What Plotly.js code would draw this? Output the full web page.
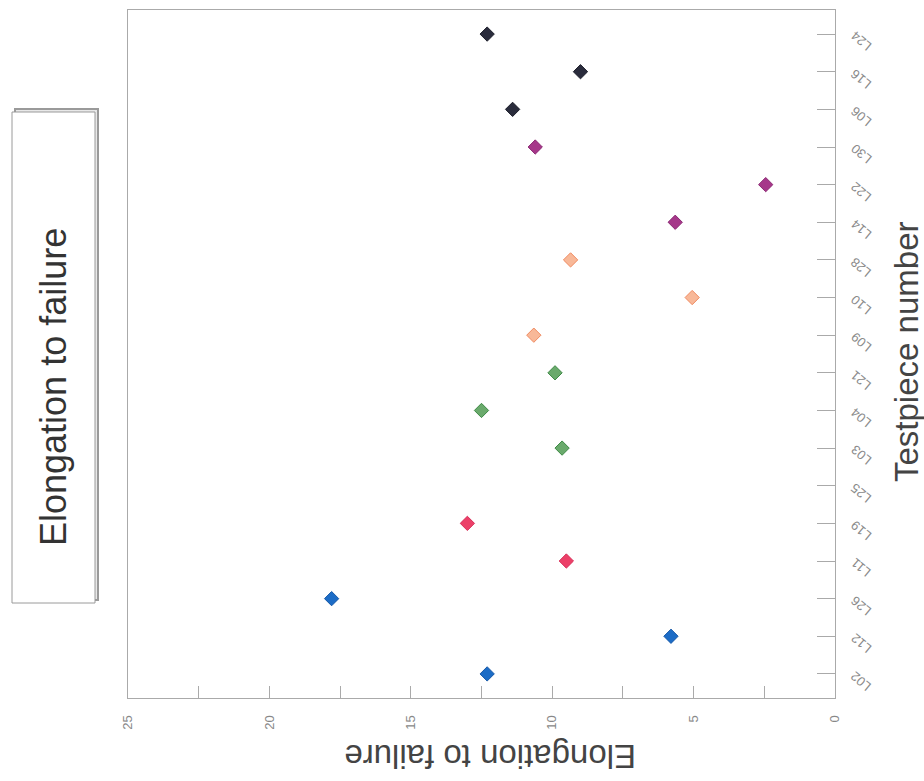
<!DOCTYPE html>
<html>
<head>
<meta charset="utf-8">
<script src="https://cdn.plot.ly/plotly-3.0.1.min.js"></script>
<style>
  html, body { margin: 0; padding: 0; background: #ffffff; }
  #chart { width: 924px; height: 781px; }
</style>
</head>
<body>
<div id="chart"></div>
<script>
// ---- Data ----
const testpieces = ["L02","L12","L26","L11","L19","L25","L03","L04","L21",
                    "L09","L10","L28","L14","L22","L30","L06","L16","L24"];
const elongation = [12.3, 5.8, 17.8, 9.5, 13.0, null, 9.65, 12.5, 9.9,
                    10.65, 5.05, 9.35, 5.65, 2.45, 10.6, 11.4, 9.0, 12.3];
const groupIndex = [0,0,0, 1,1,1, 2,2,2, 3,3,3, 4,4,4, 5,5,5];
const valueTicks = [0, 5, 10, 15, 20, 25];
const chartTitle = "Elongation to failure";
const valueAxisTitle = "Elongation to failure";
const categoryAxisTitle = "Testpiece number";

// ---- Styles ----
const groupStyles = [
  {fill: "#1c6cc6", line: "#1558a8"},
  {fill: "#ec4068", line: "#d8305a"},
  {fill: "#6aaa6c", line: "#3d8a45"},
  {fill: "#f8b898", line: "#f08a60"},
  {fill: "#a6378a", line: "#8c2a74"},
  {fill: "#2a2c3c", line: "#1c1e2a"}
];
const FONT = "Liberation Sans, Arial, sans-serif";

const traces = groupStyles.map((st, g) => {
  const ys = [], xs = [];
  testpieces.forEach((c, i) => { if (groupIndex[i] === g) { ys.push(c); xs.push(elongation[i]); } });
  return {
    type: "scatter", mode: "markers", x: xs, y: ys, showlegend: false,
    marker: {symbol: "diamond", size: 11, color: st.fill, line: {color: st.line, width: 1}},
    cliponaxis: false
  };
});

// pixel helpers for paper coordinates (plot area 128..835 x 10..698)
const L = 128, R = 835, T = 10, B = 698;
const px = x => (x - L) / (R - L);
const py = y => (B - y) / (B - T);

// slanted category labels, placed on the category axis positions
const categoryLabels = testpieces.map(c => ({
  text: c, xref: "paper", yref: "y", x: px(861), y: c, yshift: -7,
  showarrow: false, textangle: -140, xanchor: "center", yanchor: "middle",
  font: {size: 13, color: "#8a8a8a", family: FONT}
}));

const layout = {
  width: 924, height: 781,
  margin: {l: L, r: 924 - R, t: T, b: 781 - B, pad: 0},
  paper_bgcolor: "#ffffff", plot_bgcolor: "#ffffff",
  font: {family: FONT, color: "#555"},
  xaxis: {
    range: [25, 0], tickvals: valueTicks, ticktext: valueTicks.map(String),
    ticks: "inside", ticklen: 12, tickcolor: "#aaa", tickwidth: 1,
    minor: {dtick: 2.5, ticks: "inside", ticklen: 12, tickcolor: "#aaa", tickwidth: 1},
    tickangle: -90, tickfont: {size: 13, color: "#888", family: FONT},
    ticklabelstandoff: 11,
    showline: true, linecolor: "#aaa", linewidth: 1, mirror: true,
    showgrid: false, zeroline: false, fixedrange: true
  },
  yaxis: {
    type: "category", categoryorder: "array", categoryarray: testpieces,
    range: [-0.64, 17.64], side: "right", showticklabels: false,
    ticks: "inside", ticklen: 18, tickcolor: "#aaa", tickwidth: 1,
    showline: true, linecolor: "#aaa", linewidth: 1, mirror: true,
    showgrid: false, zeroline: false, fixedrange: true
  },
  shapes: [
    {type: "rect", xref: "paper", yref: "paper",
     x0: px(15), x1: px(98), y0: py(600), y1: py(109),
     line: {color: "#9a9a9a", width: 2}, fillcolor: "#e8e8e8", layer: "above"},
    {type: "rect", xref: "paper", yref: "paper",
     x0: px(12), x1: px(95), y0: py(603), y1: py(112),
     line: {color: "#9a9a9a", width: 1}, fillcolor: "#ffffff", layer: "above"}
  ],
  annotations: [
    {text: chartTitle, xref: "paper", yref: "paper", x: px(53), y: py(387),
     showarrow: false, textangle: -90, xanchor: "center", yanchor: "middle",
     font: {size: 36, color: "#333", family: FONT}},
    {text: valueAxisTitle, xref: "paper", yref: "paper", x: px(490), y: py(757),
     showarrow: false, textangle: 180, xanchor: "center", yanchor: "middle",
     font: {size: 33, color: "#444", family: FONT}},
    {text: categoryAxisTitle, xref: "paper", yref: "paper", x: px(906), y: py(352),
     showarrow: false, textangle: -90, xanchor: "center", yanchor: "middle",
     font: {size: 33, color: "#444", family: FONT}}
  ].concat(categoryLabels)
};

Plotly.newPlot("chart", traces, layout, {displayModeBar: false, staticPlot: true});
</script>
</body>
</html>
